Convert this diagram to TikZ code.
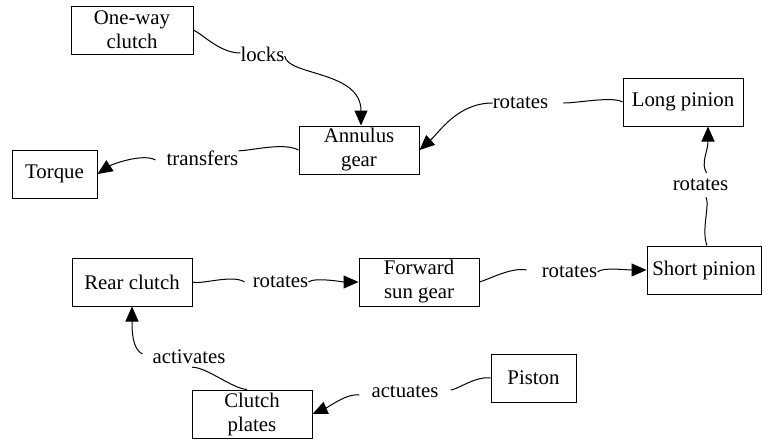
\documentclass[tikz,border=0pt]{standalone}
\usepackage{fontspec}
\setmainfont{LiberationSerif}[Extension=.ttf, UprightFont=*-Regular, BoldFont=*-Bold]
\usetikzlibrary{arrows.meta}
\begin{document}
\begin{tikzpicture}[x=1pt,y=-1pt,
  font={\fontsize{20.8}{24}\selectfont},
  box/.style={draw, line width=1pt, inner sep=0pt, minimum height=48pt, align=center},
  lbl/.style={inner sep=0pt, text height=14pt, text depth=4pt, anchor=base},
  link/.style={line width=1pt, -{Triangle[length=15pt,width=13pt]}},
  plain/.style={line width=1pt}]
\useasboundingbox (0,0) rectangle (762,442);

% components
\node[box, minimum width=122pt] (oneway)  at (132,30)    {One-way\\clutch};
\node[box, minimum width=120pt] (annulus) at (359,150)   {Annulus\\gear};
\node[box, minimum width=85pt]  (torque)  at (54.5,174)  {Torque};
\node[box, minimum width=120pt] (longp)   at (683,102)   {Long pinion};
\node[box, minimum width=114pt] (shortp)  at (704,270)   {Short pinion};
\node[box, minimum width=120pt] (forward) at (419,282)   {Forward\\sun gear};
\node[box, minimum width=120pt] (rear)    at (132,282)   {Rear clutch};
\node[box, minimum width=120pt] (plates)  at (252,414)   {Clutch\\plates};
\node[box, minimum width=85pt]  (piston)  at (533.5,378) {Piston};

% relation labels
\node[lbl] (locks)     at (262.5,61)  {locks};
\node[lbl] (transfers) at (202.5,165) {transfers};
\node[lbl] (rotA)      at (520.5,108) {rotates};
\node[lbl] (rotB)      at (700.5,190) {rotates};
\node[lbl] (rotC)      at (280.5,287) {rotates};
\node[lbl] (rotD)      at (569.5,277) {rotates};
\node[lbl] (activates) at (189,363)   {activates};
\node[lbl] (actuates)  at (405,397)   {actuates};

% one-way clutch locks annulus gear
\draw[plain] (oneway.east) .. controls +(10,5) and +(-20,0) .. ([yshift=3pt]locks.west);
\draw[link] (locks.east) .. controls +(3,20) and +(0,-55) .. ([xshift=2pt]annulus.north);

% annulus gear transfers torque
\draw[plain] (annulus.west) .. controls +(-15,-8) and +(12,0) .. (transfers.north east);
\draw[link] ([xshift=-11pt]transfers.west) .. controls +(-12,-7) and +(15,-10) .. (torque.east);

% long pinion rotates annulus gear
\draw[plain] (longp.west) .. controls +(-10,-6) and +(15,0) .. ([xshift=15pt]rotA.east);
\draw[link] (rotA.west) .. controls +(-35,0) and +(20,-18) .. (annulus.east);

% short pinion rotates long pinion
\draw[plain] ([xshift=3pt]shortp.north) .. controls +(-6,-15) and +(4,8) .. ([xshift=5.5pt,yshift=-3pt]rotB.south);
\draw[link] ([xshift=6pt,yshift=3pt]rotB.north) .. controls +(-6,-10) and +(0,25) .. ([xshift=25pt]longp.south);

% rear clutch rotates forward sun gear
\draw[plain] (rear.east) .. controls +(8,3) and +(-12,-8) .. ([xshift=-8pt]rotC.west);
\draw[link] (rotC.east) .. controls +(6,-5) and +(-15,0) .. (forward.west);

% forward sun gear rotates short pinion
\draw[plain] (forward.east) .. controls +(10,-3) and +(-15,-3) .. ([xshift=-15pt,yshift=2pt]rotD.west);
\draw[link] (rotD.east) .. controls +(5,-5) and +(-20,0) .. (shortp.west);

% clutch plates activate rear clutch
\draw[plain] ([xshift=-5pt]plates.north) .. controls +(-15,-1) and +(15,0) .. ([xshift=3pt]activates.south);
\draw[link] ([xshift=-10pt,yshift=4pt]activates.west) .. controls +(-10,-5) and +(0,25) .. (rear.south);

% piston actuates clutch plates
\draw[plain] (piston.west) .. controls +(-15,-2) and +(8,-1) .. ([xshift=12pt,yshift=2pt]actuates.east);
\draw[link] ([xshift=-12pt,yshift=-3pt]actuates.west) .. controls +(-12,-2) and +(18,-8) .. (plates.east);
\end{tikzpicture}
\end{document}
